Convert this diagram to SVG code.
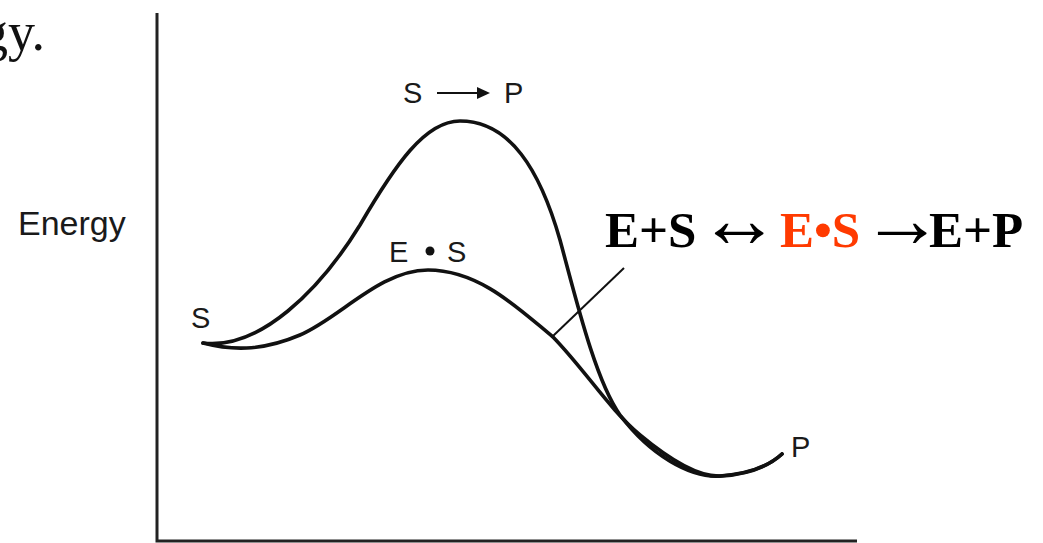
<svg xmlns="http://www.w3.org/2000/svg" width="1043" height="543" viewBox="0 0 1043 543">
<style>
.curve{fill:none;stroke:#111;stroke-width:3.6;stroke-linecap:round}
.axis{fill:none;stroke:#222;stroke-width:3}
.lbl{font-family:"Liberation Sans",Arial,sans-serif;fill:#1a1a1a}
.eq{font-family:"Liberation Serif","Times New Roman",serif;font-weight:bold;font-size:51px;fill:#000}
.eq.red{fill:#ff3a00}
.arr{font-family:"Liberation Serif","Times New Roman",serif;font-size:82px;fill:#000;letter-spacing:-30px}
</style>
<rect width="1043" height="543" fill="#fff"/>
<g id="fragment"><text x="45" y="50" font-family="Liberation Serif,'Times New Roman',serif" font-size="54" text-anchor="end" fill="#111">gy.</text></g>
<g id="axes">
<polyline class="axis" points="157,13 157,541 857,541"/>
</g>
<g id="energy-label"><text class="lbl" x="18" y="235" font-size="34">Energy</text></g>
<g id="connectors">
<path id="uncatalyzed" class="curve" d="M203 343 C260 350,320 290,360 225 C395 165,425 121,460 121 C510 121,540 170,560 240 C575 295,595 380,620 415 C650 455,690 478,720 476 C750 474,770 465,782 454"/>
<path id="catalyzed" class="curve" d="M203 343 C230 350,260 352,300 335 C340 318,380 270,428 270 C480 270,520 310,553 337 C585 370,610 410,640 435 C670 460,700 478,722 476 C750 474,770 465,782 454"/>
<line x1="624" y1="268" x2="553" y2="336" stroke="#111" stroke-width="2"/>
</g>
<g id="label-SP">
<text class="lbl" x="403" y="103" font-size="29">S</text>
<line x1="437" y1="93" x2="480" y2="93" stroke="#111" stroke-width="2.2"/>
<polygon points="490,93 477,87 477,99" fill="#111"/>
<text class="lbl" x="504" y="103" font-size="29">P</text>
</g>
<g id="label-ES">
<text class="lbl" x="389" y="262" font-size="29">E</text>
<circle cx="430" cy="251" r="4.5" fill="#111"/>
<text class="lbl" x="447" y="262" font-size="29">S</text>
</g>
<g id="label-S"><text class="lbl" x="191" y="328" font-size="29">S</text></g>
<g id="label-P"><text class="lbl" x="791" y="457" font-size="29">P</text></g>
<g id="equation">
<text class="eq" x="605" y="247">E+S</text>
<text class="arr" x="698" y="247">↔</text>
<text class="eq red" x="780" y="247">E•S</text>
<text class="arr" x="861" y="247">→</text>
<text class="eq" x="929" y="247">E+P</text>
</g>
</svg>
